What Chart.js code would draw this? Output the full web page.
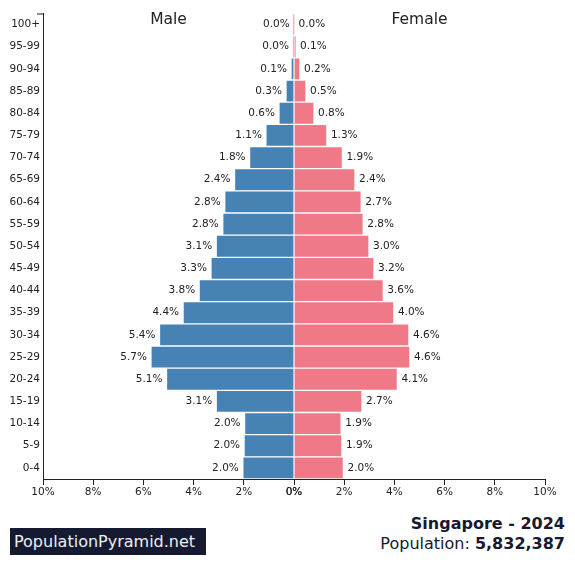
<!DOCTYPE html>
<html><head><meta charset="utf-8">
<script src="https://cdn.jsdelivr.net/npm/chart.js@4"></script>
<style>
html,body{margin:0;padding:0;background:#fff;font-family:"DejaVu Sans",sans-serif;}
#wrap{position:absolute;left:0;top:0;width:575px;height:501px;}
#brand{position:absolute;left:10px;top:528px;width:196px;height:27px;background:#151a30;color:#eef0f5;font-size:16px;line-height:27px;box-sizing:border-box;padding-left:4px;}
#info{position:absolute;right:10px;top:514px;text-align:right;color:#151a30;font-size:16px;line-height:20px;}
</style></head>
<body>
<div id="wrap"><canvas id="c"></canvas></div>
<div id="brand">PopulationPyramid.net</div>
<div id="info"><b>Singapore - 2024</b><br>Population: <b>5,832,387</b></div>
<script>
const ageGroups = ['100+','95-99','90-94','85-89','80-84','75-79','70-74','65-69','60-64','55-59','50-54','45-49','40-44','35-39','30-34','25-29','20-24','15-19','10-14','5-9','0-4'];
const maleValues = [0.01,0.04,0.12,0.32,0.60,1.12,1.77,2.37,2.76,2.84,3.10,3.31,3.78,4.42,5.36,5.70,5.08,3.10,1.97,1.99,2.04];
const femaleValues = [0.02,0.08,0.24,0.48,0.80,1.31,1.93,2.43,2.68,2.76,2.99,3.19,3.56,3.98,4.58,4.62,4.12,2.71,1.88,1.91,1.97];
const axisMax = 10;
const txt = '#222';
const font = {family:'DejaVu Sans', size:10.5};

const labelPlugin = {
  id:'labels',
  afterDatasetsDraw(chart){
    const ctx = chart.ctx;
    ctx.save();
    ctx.font = '10.5px "DejaVu Sans"';
    ctx.fillStyle = txt;
    ctx.textBaseline = 'middle';
    chart.data.datasets.forEach((ds,i)=>{
      const meta = chart.getDatasetMeta(i);
      meta.data.forEach((el,j)=>{
        const t = ds.data[j].toFixed(1)+'%';
        if(i===0){ctx.textAlign='right';ctx.fillText(t, el.x-4, el.y);}
        else {ctx.textAlign='left';ctx.fillText(t, el.x+4, el.y);}
      });
    });
    const xm = chart.scales.xm, xf = chart.scales.xf;
    ctx.font = '15.5px "DejaVu Sans"';
    ctx.textAlign='center';
    ctx.fillText('Male', (xm.left+xm.right)/2, 19.5);
    ctx.fillText('Female', (xf.left+xf.right)/2, 19.5);
    const y = chart.scales.y;
    ctx.strokeStyle = txt; ctx.lineWidth = 1;
    ctx.beginPath(); ctx.moveTo(y.right-6, chart.chartArea.top+0.5); ctx.lineTo(y.right, chart.chartArea.top+0.5); ctx.stroke();
    ctx.restore();
  }
};

const xAxisCommon = {
  type:'linear', position:'bottom', stack:'x', stackWeight:1, min:0, max:axisMax,
  grid:{display:true, drawOnChartArea:false, drawTicks:true, tickLength:6, color:txt, tickColor:txt},
  border:{display:true, color:txt, width:1},
  ticks:{stepSize:2, color:txt, font, padding:1, maxRotation:0, autoSkip:false, callback:v=>v+'%'},
  afterFit(s){s.height=22;}
};

new Chart(document.getElementById('c'), {
  type:'bar',
  data:{
    labels: ageGroups,
    datasets:[
      {label:'Male', data:maleValues, xAxisID:'xm', backgroundColor:'#4682b4', borderColor:'rgba(255,255,255,0.7)', borderWidth:1, grouped:false, barPercentage:1, categoryPercentage:1},
      {label:'Female', data:femaleValues, xAxisID:'xf', backgroundColor:'#f07988', borderColor:'rgba(255,255,255,0.7)', borderWidth:1, grouped:false, barPercentage:1, categoryPercentage:1}
    ]
  },
  options:{
    indexAxis:'y', responsive:true, maintainAspectRatio:false, animation:false,
    layout:{padding:{left:0,right:30,top:13.5,bottom:0}},
    plugins:{legend:{display:false}, tooltip:{enabled:false}},
    scales:{
      xm: Object.assign({}, xAxisCommon, {reverse:true}),
      xf: Object.assign({}, xAxisCommon),
      y:{type:'category', position:'left', offset:true,
        grid:{display:false, drawTicks:false},
        border:{display:true, color:txt, width:1},
        ticks:{color:txt, font, padding:3, autoSkip:false},
        afterFit(s){s.width=43;}
      }
    }
  },
  plugins:[labelPlugin]
});
</script>
</body></html>
